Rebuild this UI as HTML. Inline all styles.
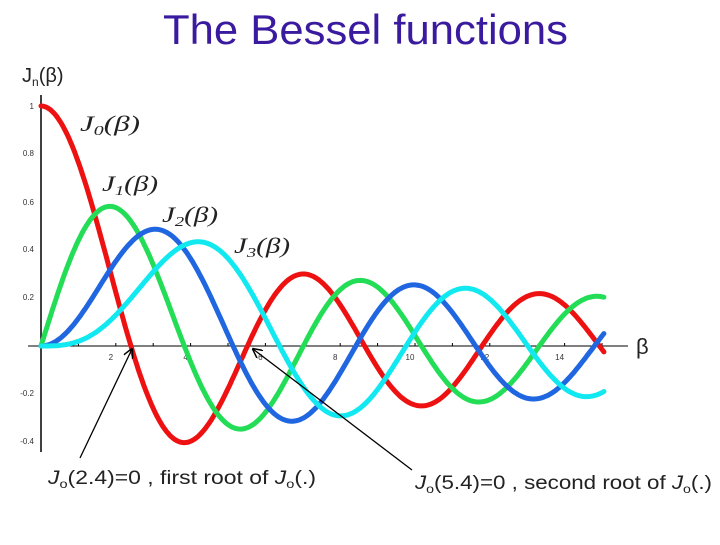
<!DOCTYPE html>
<html><head><meta charset="utf-8"><style>
body{margin:0;width:720px;height:540px;background:#fff;overflow:hidden;font-family:"Liberation Sans",sans-serif}
</style></head><body>
<svg id="s" width="720" height="540" xmlns="http://www.w3.org/2000/svg" font-family="Liberation Sans, sans-serif">
<text x="163" y="44" font-size="42" fill="#3a1a9e" textLength="405" lengthAdjust="spacingAndGlyphs">The Bessel functions</text>
<text x="22" y="82" font-size="20" fill="#222">J<tspan font-size="12" dy="4">n</tspan><tspan dy="-4">(β)</tspan></text>
<line x1="41" y1="95" x2="41" y2="452" stroke="#000" stroke-width="1.5"/>
<line x1="28" y1="346" x2="628" y2="346" stroke="#000" stroke-width="1"/>
<g font-size="8" fill="#333" text-anchor="end">
<text x="34" y="109">1</text><text x="34" y="156">0.8</text><text x="34" y="205">0.6</text>
<text x="34" y="252">0.4</text><text x="34" y="300">0.2</text><text x="34" y="396">-0.2</text><text x="34" y="444">-0.4</text>
</g>
<g font-size="8" fill="#333" text-anchor="middle" id="xt"></g>
<text x="636" y="354" font-size="22" fill="#222">β</text>
<g id="curves" fill="none" stroke-width="5" stroke-linecap="round" stroke-linejoin="round"></g>
<g font-family="Liberation Serif, serif" font-style="italic" font-size="22" fill="#222">
<text x="80" y="131" textLength="60" lengthAdjust="spacingAndGlyphs">J<tspan font-size="14" dy="4">0</tspan><tspan dy="-4">(β)</tspan></text>
<text x="102" y="191" textLength="56" lengthAdjust="spacingAndGlyphs">J<tspan font-size="14" dy="4">1</tspan><tspan dy="-4">(β)</tspan></text>
<text x="162" y="222" textLength="56" lengthAdjust="spacingAndGlyphs">J<tspan font-size="14" dy="4">2</tspan><tspan dy="-4">(β)</tspan></text>
<text x="234" y="253" textLength="56" lengthAdjust="spacingAndGlyphs">J<tspan font-size="14" dy="4">3</tspan><tspan dy="-4">(β)</tspan></text>
</g>
<defs><marker id="a" markerWidth="10" markerHeight="10" refX="9" refY="5" orient="auto" markerUnits="userSpaceOnUse"><path d="M0,0 L10,5 L0,10" fill="none" stroke="#000" stroke-width="1.5"/></marker></defs>
<line x1="80" y1="458" x2="132" y2="349" stroke="#000" stroke-width="1.3" marker-end="url(#a)"/>
<line x1="412" y1="470" x2="253" y2="349" stroke="#000" stroke-width="1.3" marker-end="url(#a)"/>
<g font-size="19" fill="#222">
<text x="48" y="484" textLength="268" lengthAdjust="spacingAndGlyphs"><tspan font-style="italic">J</tspan><tspan font-size="12" dy="4">o</tspan><tspan dy="-4">(2.4)=0 , first root of </tspan><tspan font-style="italic">J</tspan><tspan font-size="12" dy="4">o</tspan><tspan dy="-4">(.)</tspan></text>
<text x="415" y="489" textLength="297" lengthAdjust="spacingAndGlyphs"><tspan font-style="italic">J</tspan><tspan font-size="12" dy="4">o</tspan><tspan dy="-4">(5.4)=0 , second root of </tspan><tspan font-style="italic">J</tspan><tspan font-size="12" dy="4">o</tspan><tspan dy="-4">(.)</tspan></text>
</g>
</svg>
<script>
function J(n,x){var s=0,t=Math.pow(x/2,n);for(var k=1;k<=n;k++)t/=k;for(var k=0;k<60;k++){s+=t;t*=-(x*x/4)/((k+1)*(k+1+n));}return s;}
var X0=41,SX=37.4,Y0=346,SY=240,ns="http://www.w3.org/2000/svg";
var cols=["#ee1111","#22dd55","#1f66e0","#11e8f0"],g=document.getElementById("curves");
for(var n=0;n<4;n++){var p=[];for(var b=0;b<=15.1;b+=0.05){p.push((X0+b*SX).toFixed(1)+","+(Y0-J(n,b)*SY).toFixed(1));}
var el=document.createElementNS(ns,"polyline");el.setAttribute("points",p.join(" "));el.setAttribute("stroke",cols[n]);g.appendChild(el);}
var xt=document.getElementById("xt");
for(var i=1;i<=15;i++){var l=document.createElementNS(ns,"line");var x=X0+i*SX;l.setAttribute("x1",x);l.setAttribute("x2",x);l.setAttribute("y1",343);l.setAttribute("y2",346);l.setAttribute("stroke","#000");xt.appendChild(l);
if(i%2==0&&i<15){var t=document.createElementNS(ns,"text");t.setAttribute("x",x-5);t.setAttribute("y",360);t.textContent=i;xt.appendChild(t);}}
</script>
</body></html>
